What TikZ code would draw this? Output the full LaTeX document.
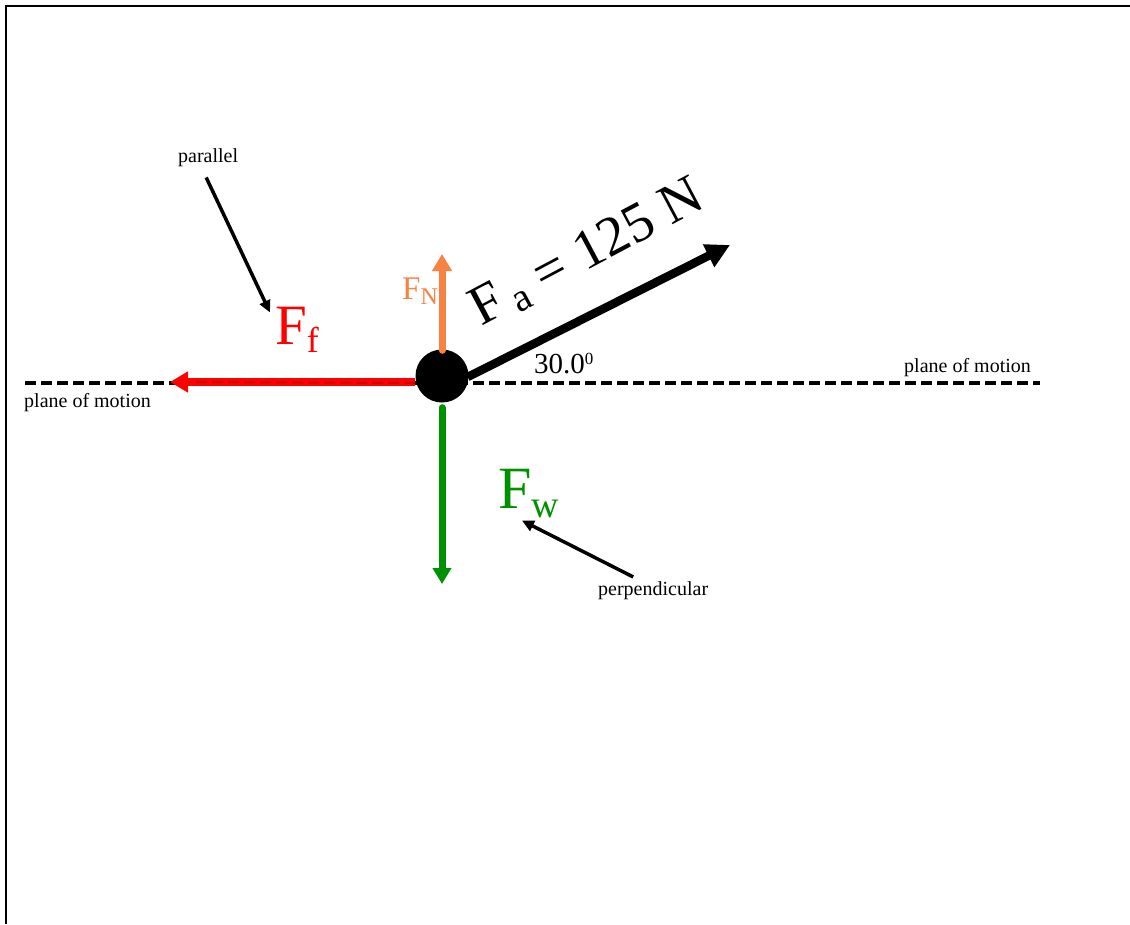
\documentclass[tikz,border=0pt]{standalone}
\usepackage{fontspec}
\setmainfont{Liberation Serif}
\usetikzlibrary{arrows.meta}
\definecolor{fnorange}{RGB}{247,130,66}
\definecolor{fwgreen}{RGB}{0,145,0}
\begin{document}
\begin{tikzpicture}[x=1pt,y=-1pt,
  lbl/.style={inner sep=0pt, anchor=base west},
  small/.style={lbl, font=\fontsize{20}{20}\selectfont},
  planeline/.style={line width=4pt, dash pattern=on 11pt off 5pt},
  force/.style={line width=7pt},
  ptr/.style={line width=3.5pt, -{Triangle[length=12pt,width=11pt]}}]
\useasboundingbox (0,0) rectangle (1130,924);
\fill[white] (0,0) rectangle (1130,924);
\draw[line width=2.5pt] (6,924) -- (6,6) -- (1130,6);

% plane of motion
\coordinate (pl) at (25,383);
\coordinate (pr) at (1040,383);
\draw[planeline] (pl) -- (pr);

% ball
\node[circle, fill=black, minimum size=53pt, inner sep=0pt] (ball) at (442,376) {};

% forces
\coordinate (fftip) at (170,382);
\draw[red, line width=8pt, -{Triangle[length=18pt,width=20pt]}] ([yshift=-6pt]ball.west) -- (fftip);
\draw[red!60!black, line width=2pt, dash pattern=on 11pt off 5pt, opacity=0.5] ([yshift=-7pt]ball.west) -- ([xshift=20pt]fftip);

\coordinate (fntip) at (442,254);
\draw[fnorange, force, line cap=round, -{Triangle[length=17pt,width=19pt]}] ([yshift=-1pt]ball.north) -- (fntip);

\coordinate (fwtip) at (442,584);
\draw[fwgreen, force, line cap=round, -{Triangle[length=16pt,width=18pt]}] ([yshift=-5pt]ball.south) -- (fwtip);

\coordinate (fatip) at (730,245);
\draw[line width=8.5pt, -{Triangle[length=24pt,width=24pt]}] ([xshift=-1pt,yshift=-1pt]ball.east) -- (fatip);

% labels
\node[lbl, red] (ff) at (275,344) {\fontsize{57}{57}\selectfont F\raisebox{-8pt}{\fontsize{36}{36}\selectfont f}};
\node[lbl, fnorange] (fn) at (402,299) {\fontsize{33}{33}\selectfont F\raisebox{-5pt}{\fontsize{24}{24}\selectfont N}};
\node[lbl, fwgreen] (fw) at (498,508) {\fontsize{60}{60}\selectfont F\raisebox{-9pt}{\fontsize{38}{38}\selectfont w}};
\node[lbl, rotate=28] (fa) at (481,327) {\fontsize{56}{56}\selectfont F\,\raisebox{-6pt}{\fontsize{40}{40}\selectfont a} = 125 N};
\node[lbl] (ang) at (534,373) {\fontsize{29}{29}\selectfont 30.0\raisebox{9pt}{\fontsize{17}{17}\selectfont 0}};
\node[small] (plr) at (904,372) {plane of motion};
\node[small] (pll) at (24,407) {plane of motion};
\node[small] (par) at (178,162) {parallel};
\node[small] (perp) at (598,595) {perpendicular};

% pointers
\draw[ptr] ([xshift=-2pt,yshift=-11pt]par.south) -- ([xshift=-5pt,yshift=-6pt]ff.north west);
\draw[ptr] ([xshift=-20pt,yshift=4pt]perp.north) -- ([xshift=24pt,yshift=-3pt]fw.south west);
\end{tikzpicture}
\end{document}
